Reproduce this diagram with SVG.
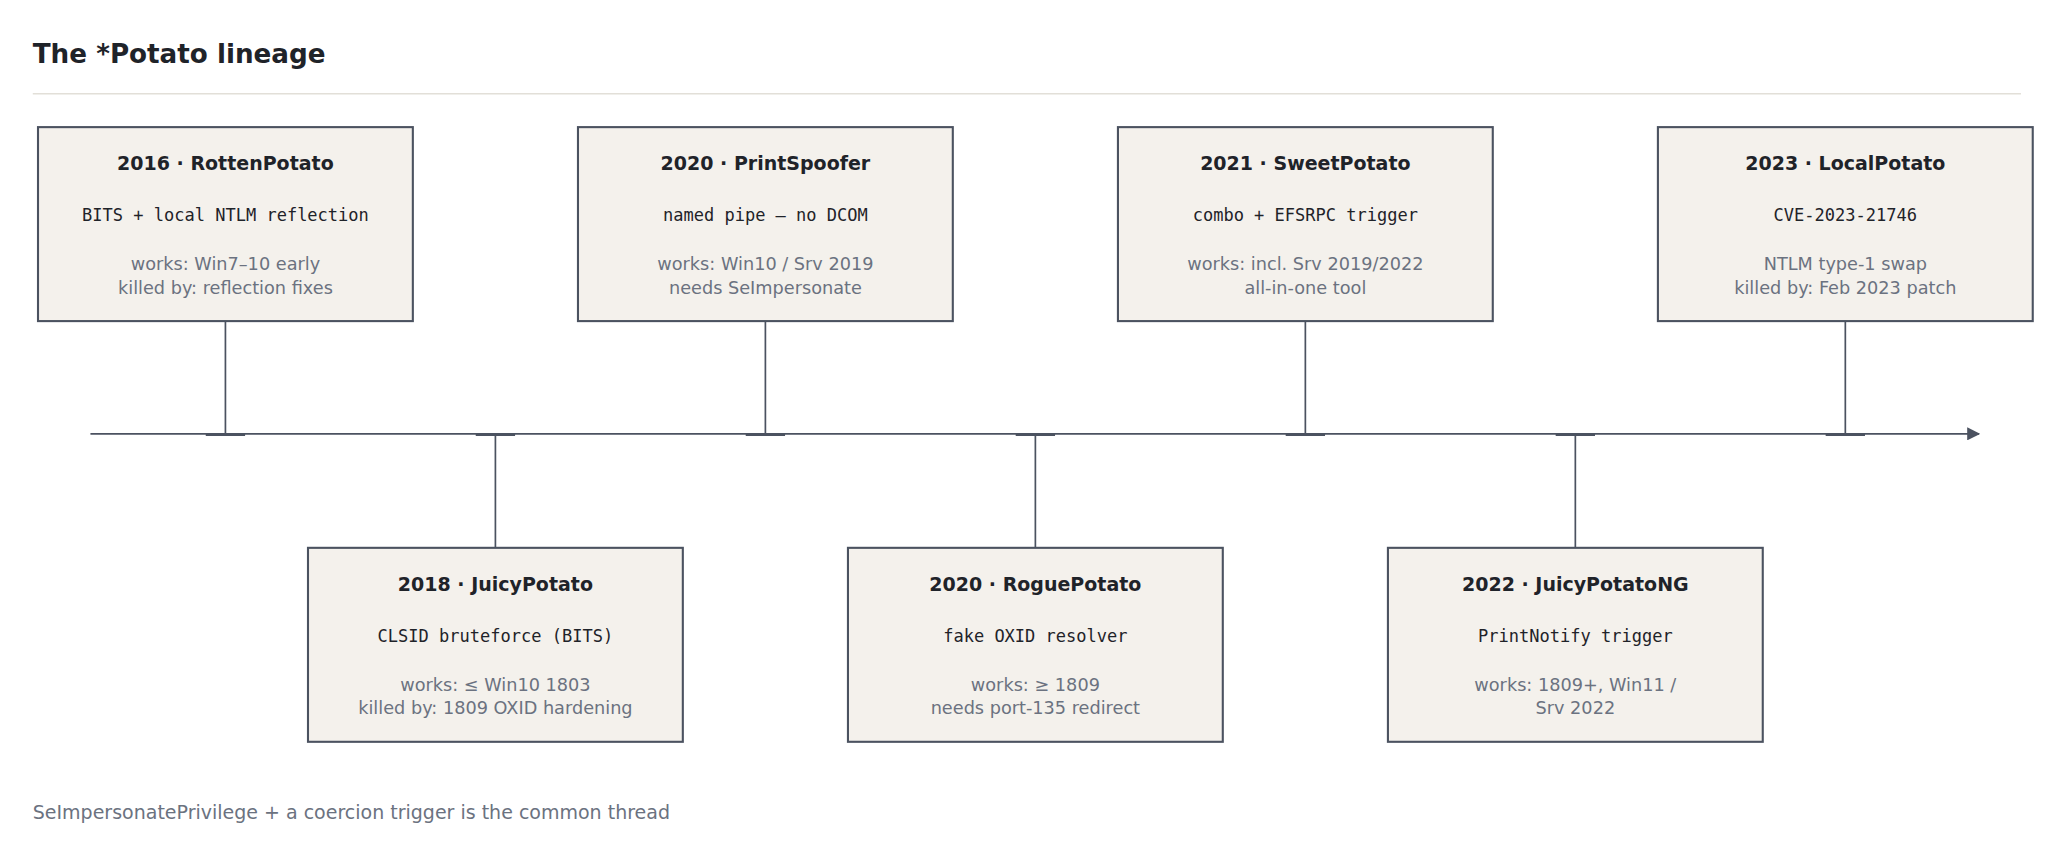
<svg xmlns="http://www.w3.org/2000/svg" width="2055" height="854" viewBox="0 0 2055 854">
<style>
.b{fill:#f4f1ec;stroke:#4b5260;stroke-width:1.6}
.h{font:bold 14.5px "DejaVu Sans",sans-serif;fill:#1f2329;text-anchor:middle}
.m{font:13px "DejaVu Sans Mono",monospace;fill:#1f2329;text-anchor:middle}
.g{font:13.5px "DejaVu Sans",sans-serif;fill:#6b7280;text-anchor:middle}
.c line{stroke:#4b5260;stroke-width:1.3}
.c line.t{stroke-width:2.2}
</style>
<defs><marker id="ar" markerWidth="10" markerHeight="10" refX="9" refY="5" orient="auto" markerUnits="userSpaceOnUse"><path d="M0,0L10,5L0,10z" fill="#4b5260"/></marker></defs>
<rect width="2055" height="854" fill="#fff"/>
<g transform="scale(1.3106)">
<text x="25" y="48" style="font:bold 20px 'DejaVu Sans',sans-serif;fill:#1f2329">The *Potato lineage</text>
<line x1="25" y1="71.5" x2="1542" y2="71.5" stroke="#e2dfd8" stroke-width="1.2"/>
<g class="c" id="connectors">
<line x1="69" y1="331" x2="1510" y2="331" marker-end="url(#ar)"/>
<line x1="172" y1="245" x2="172" y2="331"/><line x1="584" y1="245" x2="584" y2="331"/><line x1="996" y1="245" x2="996" y2="331"/><line x1="1408" y1="245" x2="1408" y2="331"/>
<line x1="378" y1="331" x2="378" y2="418"/><line x1="790" y1="331" x2="790" y2="418"/><line x1="1202" y1="331" x2="1202" y2="418"/>
<line class="t" x1="157" y1="331.5" x2="187" y2="331.5"/><line class="t" x1="363" y1="331.5" x2="393" y2="331.5"/><line class="t" x1="569" y1="331.5" x2="599" y2="331.5"/><line class="t" x1="775" y1="331.5" x2="805" y2="331.5"/><line class="t" x1="981" y1="331.5" x2="1011" y2="331.5"/><line class="t" x1="1187" y1="331.5" x2="1217" y2="331.5"/><line class="t" x1="1393" y1="331.5" x2="1423" y2="331.5"/>
</g>
<g id="rotten"><rect class="b" x="29" y="97" width="286" height="148"/><text class="h" x="172" y="130">2016 · RottenPotato</text><text class="m" x="172" y="169">BITS + local NTLM reflection</text><text class="g" x="172" y="206">works: Win7–10 early</text><text class="g" x="172" y="224">killed by: reflection fixes</text></g>
<g id="printspoofer"><rect class="b" x="441" y="97" width="286" height="148"/><text class="h" x="584" y="130">2020 · PrintSpoofer</text><text class="m" x="584" y="169">named pipe — no DCOM</text><text class="g" x="584" y="206">works: Win10 / Srv 2019</text><text class="g" x="584" y="224">needs SeImpersonate</text></g>
<g id="sweet"><rect class="b" x="853" y="97" width="286" height="148"/><text class="h" x="996" y="130">2021 · SweetPotato</text><text class="m" x="996" y="169">combo + EFSRPC trigger</text><text class="g" x="996" y="206">works: incl. Srv 2019/2022</text><text class="g" x="996" y="224">all-in-one tool</text></g>
<g id="local"><rect class="b" x="1265" y="97" width="286" height="148"/><text class="h" x="1408" y="130">2023 · LocalPotato</text><text class="m" x="1408" y="169">CVE-2023-21746</text><text class="g" x="1408" y="206">NTLM type-1 swap</text><text class="g" x="1408" y="224">killed by: Feb 2023 patch</text></g>
<g id="juicy"><rect class="b" x="235" y="418" width="286" height="148"/><text class="h" x="378" y="451">2018 · JuicyPotato</text><text class="m" x="378" y="490">CLSID bruteforce (BITS)</text><text class="g" x="378" y="527">works: ≤ Win10 1803</text><text class="g" x="378" y="545">killed by: 1809 OXID hardening</text></g>
<g id="rogue"><rect class="b" x="647" y="418" width="286" height="148"/><text class="h" x="790" y="451">2020 · RoguePotato</text><text class="m" x="790" y="490">fake OXID resolver</text><text class="g" x="790" y="527">works: ≥ 1809</text><text class="g" x="790" y="545">needs port-135 redirect</text></g>
<g id="juicyng"><rect class="b" x="1059" y="418" width="286" height="148"/><text class="h" x="1202" y="451">2022 · JuicyPotatoNG</text><text class="m" x="1202" y="490">PrintNotify trigger</text><text class="g" x="1202" y="527">works: 1809+, Win11 /</text><text class="g" x="1202" y="545">Srv 2022</text></g>
<text x="25" y="625" style="font:14.5px 'DejaVu Sans',sans-serif;fill:#6b7280">SeImpersonatePrivilege + a coercion trigger is the common thread</text>
</g>
</svg>
